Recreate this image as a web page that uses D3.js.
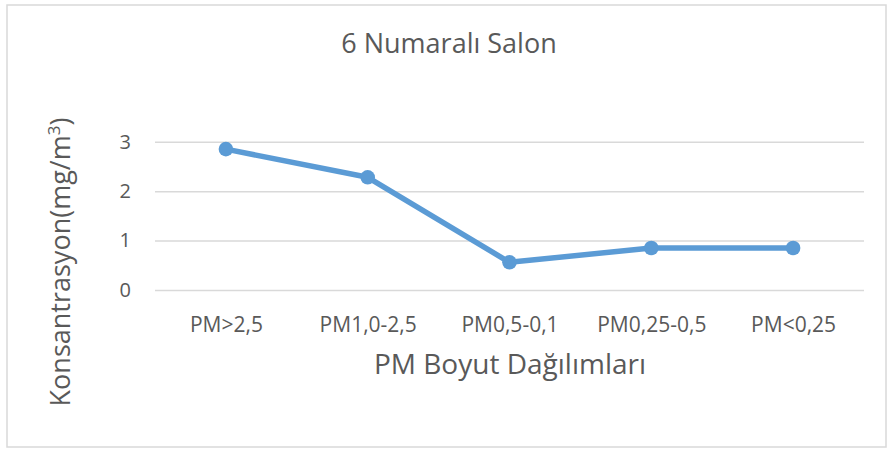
<!DOCTYPE html>
<html>
<head>
<meta charset="utf-8">
<script src="https://cdn.jsdelivr.net/npm/d3@7"></script>
<style>
  body { margin: 0; background: #fff; }
  svg text { font-family: "Open Sans", sans-serif; fill: #595959; }
</style>
</head>
<body>
<svg id="chart" width="889" height="450"></svg>
<script>
// data
var categories = ["PM>2,5", "PM1,0-2,5", "PM0,5-0,1", "PM0,25-0,5", "PM<0,25"];
var values = [2.85, 2.28, 0.56, 0.85, 0.85];
var yTicks = [0, 1, 2, 3];

var svg = d3.select("#chart");
var plot = {left: 155, right: 864, top: 141.7, bottom: 290};

// outer frame
svg.append("rect")
    .attr("x", 7).attr("y", 5)
    .attr("width", 879).attr("height", 442)
    .attr("fill", "none")
    .attr("stroke", "#d9d9d9")
    .attr("stroke-width", 1.5);

var x = d3.scalePoint()
    .domain(categories)
    .range([plot.left, plot.right])
    .padding(0.5);

var y = d3.scaleLinear()
    .domain([0, 3])
    .range([plot.bottom, plot.top]);

// gridlines + y tick labels
var yAxis = svg.append("g")
    .attr("transform", "translate(" + plot.left + ",0)")
    .call(d3.axisLeft(y).tickValues(yTicks).tickFormat(d3.format("d"))
        .tickSize(-(plot.right - plot.left)).tickPadding(24));
yAxis.select(".domain").remove();
yAxis.selectAll(".tick line").attr("stroke", "#d9d9d9").attr("stroke-width", 1.5);
yAxis.selectAll(".tick text")
    .style("font-family", "'Open Sans', sans-serif")
    .style("font-size", "20px")
    .attr("fill", "#595959");

// x tick labels
var xAxis = svg.append("g")
    .attr("transform", "translate(0," + plot.bottom + ")")
    .call(d3.axisBottom(x).tickSize(0).tickPadding(0));
xAxis.select(".domain").remove();
xAxis.selectAll(".tick text")
    .attr("y", 41.7).attr("dy", null)
    .style("font-family", "'Open Sans', sans-serif")
    .style("font-size", "21px")
    .attr("fill", "#595959");

// series line
var line = d3.line()
    .x(function(d, i) { return x(categories[i]); })
    .y(function(d) { return y(d); });

svg.append("path")
    .datum(values)
    .attr("d", line)
    .attr("fill", "none")
    .attr("stroke", "#5b9bd5")
    .attr("stroke-width", 5.5)
    .attr("stroke-linejoin", "round");

svg.selectAll("circle.pt")
    .data(values)
    .enter()
    .append("circle")
    .attr("class", "pt")
    .attr("cx", function(d, i) { return x(categories[i]); })
    .attr("cy", function(d) { return y(d); })
    .attr("r", 7.3)
    .attr("fill", "#5b9bd5");

// titles
svg.append("text")
    .attr("x", 449).attr("y", 53.3)
    .attr("text-anchor", "middle")
    .style("font-size", "27px")
    .text("6 Numaralı Salon");

svg.append("text")
    .attr("x", 510).attr("y", 374.3)
    .attr("text-anchor", "middle")
    .style("font-size", "28px")
    .text("PM Boyut Dağılımları");

var yTitle = svg.append("text")
    .attr("transform", "translate(70,262) rotate(-90)")
    .attr("text-anchor", "middle")
    .style("font-size", "27px");
yTitle.append("tspan").text("Konsantrasyon(mg/m");
yTitle.append("tspan").attr("dy", -10).style("font-size", "17px").text("3");
yTitle.append("tspan").attr("dy", 10).text(")");
</script>
</body>
</html>
